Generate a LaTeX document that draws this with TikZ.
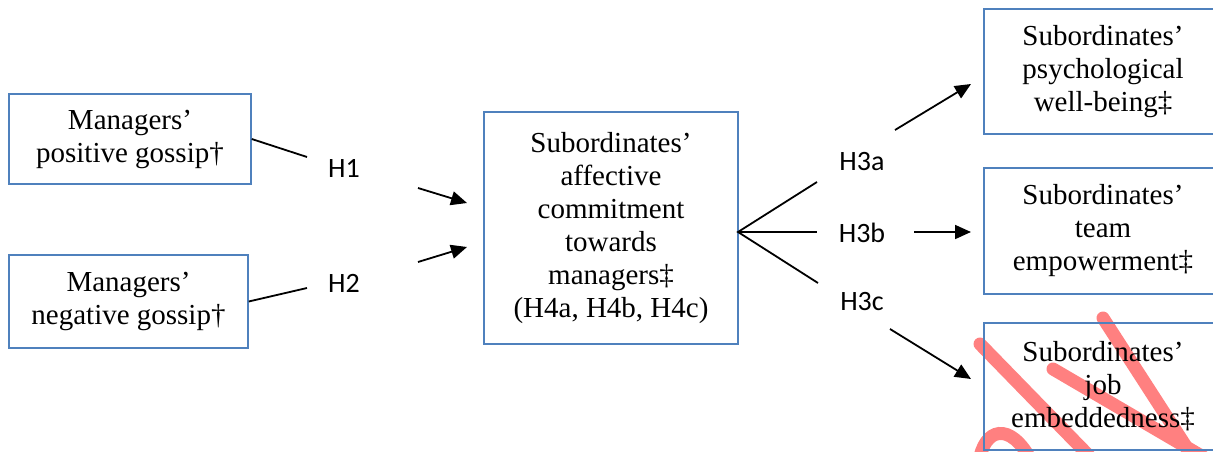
\documentclass[tikz,border=0pt]{standalone}
\usepackage{fontspec}
\setmainfont{Liberation Serif}
\newfontfamily\lblfont{Carlito}
\usetikzlibrary{arrows.meta}
\definecolor{boxblue}{RGB}{79,129,189}
\definecolor{wmred}{RGB}{255,128,128}
\begin{document}
\begin{tikzpicture}[x=1pt,y=-1pt,
  box/.style={draw=boxblue,line width=1.5pt,inner sep=0pt,align=center,
    font=\fontsize{29}{33}\selectfont},
  lbl/.style={inner sep=0pt,font=\lblfont\fontsize{28}{32}\selectfont},
  conn/.style={line width=1.8pt},
  arr/.style={line width=1.8pt,-{Triangle[length=16pt,width=14pt]}},
  wmstroke/.style={wmred,line width=13pt,line cap=round}]
\clip (0,0) rectangle (1213,452);
\useasboundingbox (0,0) rectangle (1213,452);
\fill[white] (0,0) rectangle (1213,452);

% watermark strokes
\draw[wmstroke] (980,344) -- (1095,462);
\draw[wmstroke] (1053,369) -- (1205,458);
\draw[wmstroke] (1103,318) -- (1196,462);
\draw[wmstroke] (979,462) .. controls (984,428) and (1010,420) .. (1032,462);

% boxes
\node[box,minimum width=242pt,minimum height=90pt] (b1) at (130,139)
  {Managers’\\positive gossip†};
\node[box,minimum width=239pt,minimum height=93pt] (b2) at (128.5,301.5)
  {Managers’\\negative gossip†};
\node[box,minimum width=254pt,minimum height=232pt] (cb) at (611,228)
  {Subordinates’\\affective\\commitment\\towards\\managers‡\\(H4a, H4b, H4c)};
\node[box,minimum width=238pt,minimum height=125pt] (ra) at (1103,71.5)
  {Subordinates’\\psychological\\well-being‡};
\node[box,minimum width=238pt,minimum height=126pt] (rb) at (1103,231)
  {Subordinates’\\team\\empowerment‡};
\node[box,minimum width=238pt,minimum height=127pt] (rc) at (1103,386.5)
  {Subordinates’\\job\\embeddedness‡};

% labels
\node[lbl] (h1) at (344,168) {H1};
\node[lbl] (h2) at (344,283) {H2};
\node[lbl] (h3a) at (862,162) {H3a};
\node[lbl] (h3b) at (862,233) {H3b};
\node[lbl] (h3c) at (862,302) {H3c};

% connector points
\coordinate (h1in) at (307,157);
\coordinate (h2in) at (307,288);
\coordinate (a1s) at (418,188);
\coordinate (a1e) at (467,203);
\coordinate (a2s) at (418,262);
\coordinate (a2e) at (467,247);
\coordinate (fan) at (738,232);
\coordinate (fa) at (817,182);
\coordinate (fb) at (817,232);
\coordinate (fc) at (818,283);
\coordinate (aas) at (895,130);
\coordinate (aae) at (971,84);
\coordinate (abs) at (914,232);
\coordinate (abe) at (971,232);
\coordinate (acs) at (890,329);
\coordinate (ace) at (971,379);

\draw[conn] (b1.east) -- (h1in);
\draw[conn] (b2.east) -- (h2in);
\draw[arr] (a1s) -- (a1e);
\draw[arr] (a2s) -- (a2e);
\draw[conn] (fa) -- (fan) -- (fc);
\draw[conn] (fan) -- (fb);
\draw[arr] (aas) -- (aae);
\draw[arr] (abs) -- (abe);
\draw[arr] (acs) -- (ace);
\end{tikzpicture}
\end{document}
